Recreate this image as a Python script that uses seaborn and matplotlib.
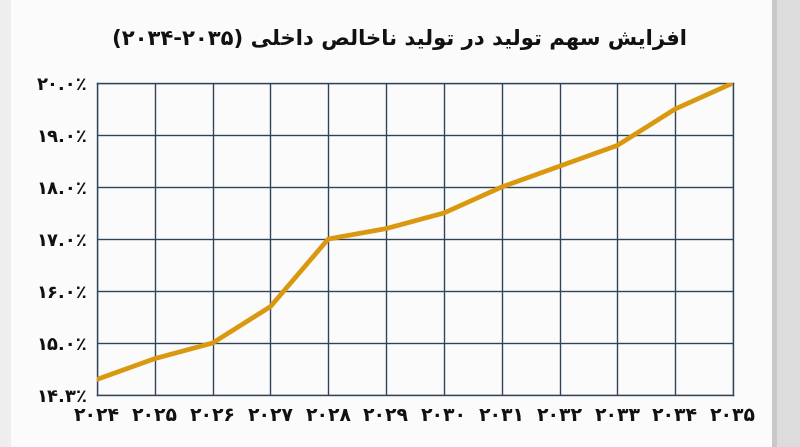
import matplotlib
matplotlib.use("Agg")
import matplotlib.pyplot as plt
import matplotlib.patches as mpatches
import seaborn as sns
import pandas as pd

# ---- data ----
years = ["۲۰۲۴", "۲۰۲۵", "۲۰۲۶", "۲۰۲۷", "۲۰۲۸", "۲۰۲۹",
         "۲۰۳۰", "۲۰۳۱", "۲۰۳۲", "۲۰۳۳", "۲۰۳۴", "۲۰۳۵"]
share = [14.3, 14.7, 15.0, 15.7, 17.0, 17.2, 17.5, 18.0, 18.4, 18.8, 19.5, 20.0]
y_ticks = [14.0, 15.0, 16.0, 17.0, 18.0, 19.0, 20.0]
y_tick_labels = ["۱۴.۳٪", "۱۵.۰٪", "۱۶.۰٪", "۱۷.۰٪", "۱۸.۰٪", "۱۹.۰٪", "۲۰.۰٪"]
title_text = "افزایش سهم تولید در تولید ناخالص داخلی"
title_suffix = "(۲۰۳۴-۲۰۳۵)"

# ---- minimal Arabic/Persian shaping (matplotlib has no complex text layout) ----
FORMS = {  # isolated, final, initial, medial
    "ا": (0xFE8D, 0xFE8E, None, None),
    "ب": (0xFE8F, 0xFE90, 0xFE91, 0xFE92),
    "ت": (0xFE95, 0xFE96, 0xFE97, 0xFE98),
    "خ": (0xFEA5, 0xFEA6, 0xFEA7, 0xFEA8),
    "د": (0xFEA9, 0xFEAA, None, None),
    "ر": (0xFEAD, 0xFEAE, None, None),
    "ز": (0xFEAF, 0xFEB0, None, None),
    "س": (0xFEB1, 0xFEB2, 0xFEB3, 0xFEB4),
    "ش": (0xFEB5, 0xFEB6, 0xFEB7, 0xFEB8),
    "ص": (0xFEB9, 0xFEBA, 0xFEBB, 0xFEBC),
    "ف": (0xFED1, 0xFED2, 0xFED3, 0xFED4),
    "ل": (0xFEDD, 0xFEDE, 0xFEDF, 0xFEE0),
    "م": (0xFEE1, 0xFEE2, 0xFEE3, 0xFEE4),
    "ن": (0xFEE5, 0xFEE6, 0xFEE7, 0xFEE8),
    "ه": (0xFEE9, 0xFEEA, 0xFEEB, 0xFEEC),
    "و": (0xFEED, 0xFEEE, None, None),
    "ی": (0xFEEF, 0xFEF0, 0xFEF3, 0xFEF4),
}


def shape(text):
    out = []
    n = len(text)
    for i, ch in enumerate(text):
        if ch not in FORMS:
            out.append(ch)
            continue
        f = FORMS[ch]
        prev = text[i - 1] if i > 0 else None
        nxt = text[i + 1] if i + 1 < n else None
        jp = prev in FORMS and FORMS[prev][2] is not None
        jn = f[2] is not None and nxt in FORMS
        if jp and jn:
            cp = f[3]
        elif jp:
            cp = f[1]
        elif jn:
            cp = f[2]
        else:
            cp = f[0]
        out.append(chr(cp))
    return "".join(out)


def rtl(text):
    return shape(text)[::-1]


df = pd.DataFrame({"year": years, "share": share})

sns.set_theme(style="white")
plt.rcParams["font.family"] = ["DejaVu Sans"]

fig = plt.figure(figsize=(8.0, 4.47), dpi=100)
fig.patch.set_facecolor("#f6f6f6")
# paper background
bg = [
    ((0.0, 0.0), 0.965, "#fbfbfb"),
    ((0.0, 0.0), 0.014, "#eeeeee"),
    ((0.965, 0.0), 0.035, "#dcdcdc"),
    ((0.965, 0.0), 0.006, "#c9c9c9"),
]
for xy, w, c in bg:
    fig.patches.append(mpatches.Rectangle(xy, w, 1.0, transform=fig.transFigure,
                                          facecolor=c, edgecolor="none", zorder=-10))

ax = fig.add_axes([97 / 800, 1 - 395 / 447, (733 - 97) / 800, (395 - 83) / 447])
ax.set_zorder(5)
ax.set_facecolor("#fbfbfb")

sns.lineplot(data=df, x="year", y="share", ax=ax, color="#da980f",
             linewidth=3.4, sort=False, solid_joinstyle="round",
             solid_capstyle="round", zorder=3)

ax.set_xlim(0, len(years) - 1)
ax.set_ylim(y_ticks[0], y_ticks[-1])
ax.set_yticks(y_ticks)
ax.set_yticklabels(y_tick_labels)
ax.set_xticks(range(len(years)))
ax.set_xticklabels(years)
ax.grid(True, color="#2f4359", linewidth=1.0)
ax.set_axisbelow(True)
for s in ax.spines.values():
    s.set_color("#2f4359")
    s.set_linewidth(1.0)
ax.tick_params(axis="y", length=0, labelsize=13, colors="#111111", pad=7)
ax.tick_params(axis="x", length=0, labelsize=13.5, colors="#111111", pad=8)
for lab in ax.get_xticklabels() + ax.get_yticklabels():
    lab.set_fontweight("bold")
ax.set_xlabel("")
ax.set_ylabel("")

fig.text(0.5, 1 - 40 / 447, title_suffix + " " + rtl(title_text),
         ha="center", va="center", fontsize=15.2, fontweight="bold", color="#111111",
         zorder=6)

fig.savefig("out.png", dpi=100, facecolor=fig.get_facecolor())
